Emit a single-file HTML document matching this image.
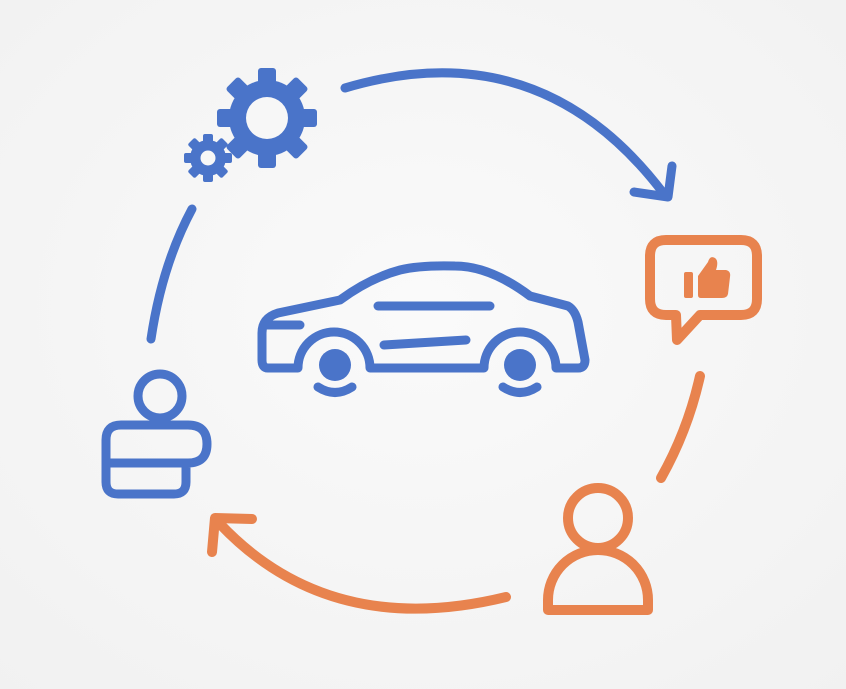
<!DOCTYPE html>
<html><head><style>
html,body{margin:0;padding:0;background:#f6f6f6;}
svg{display:block;}
</style></head><body>
<svg width="846" height="689" viewBox="0 0 846 689" xmlns="http://www.w3.org/2000/svg">
<defs>
<radialGradient id="bg" cx="50%" cy="45%" r="75%"><stop offset="0" stop-color="#fafafa"/><stop offset="1" stop-color="#f1f1f1"/></radialGradient>
</defs>
<rect width="846" height="689" fill="url(#bg)"/>
<g fill="none" stroke="#4a74c9" stroke-width="9" stroke-linecap="round" stroke-linejoin="round">
  <path d="M345,88 Q540,30 664,194"/>
  <path d="M634,192 L668,197 L672,166"/>
  <path d="M192,209 Q162,265 151,339"/>
  <circle cx="160" cy="396" r="22"/>
  <path d="M108,463 H188 Q207,463 207,444 Q207,425 188,425 H121 Q106,425 106,440 V482 Q106,494 118,494 H174 Q186,494 186,482 V463"/>
  <path d="M268,368 Q262,368 262,360 V333 Q262,318 278,313 L340,300 Q370,278 400,270 Q420,265 455,266 Q490,266 530,296 L568,306 Q575,310 578,322 L585,360 Q585,368 578,368 H556 A36,36 0 0 0 484,368 H370 A36,36 0 0 0 298,368 Z"/>
  <path d="M378,306 H490"/>
  <path d="M384,345 L466,340"/>
  <path d="M265,325 H300"/>
  <path d="M318,387 Q335,398 352,387"/>
  <path d="M503,387 Q520,398 537,387"/>
</g>
<g fill="#4a74c9">
  <circle cx="335" cy="365" r="16"/>
  <circle cx="520" cy="365" r="16"/>
</g>
<g fill="#4a74c9">
  <g transform="translate(267,118)">
    <circle r="38"/>
    <rect x="-9" y="-50" width="18" height="20" rx="3"/>
    <rect x="-9" y="-50" width="18" height="20" rx="3" transform="rotate(45)"/>
    <rect x="-9" y="-50" width="18" height="20" rx="3" transform="rotate(90)"/>
    <rect x="-9" y="-50" width="18" height="20" rx="3" transform="rotate(135)"/>
    <rect x="-9" y="-50" width="18" height="20" rx="3" transform="rotate(180)"/>
    <rect x="-9" y="-50" width="18" height="20" rx="3" transform="rotate(225)"/>
    <rect x="-9" y="-50" width="18" height="20" rx="3" transform="rotate(270)"/>
    <rect x="-9" y="-50" width="18" height="20" rx="3" transform="rotate(315)"/>
    <circle r="21" fill="#f7f7f7"/>
  </g>
  <g transform="translate(208,158)">
    <circle r="18"/>
    <rect x="-5" y="-24" width="10" height="10" rx="2"/>
    <rect x="-5" y="-24" width="10" height="10" rx="2" transform="rotate(45)"/>
    <rect x="-5" y="-24" width="10" height="10" rx="2" transform="rotate(90)"/>
    <rect x="-5" y="-24" width="10" height="10" rx="2" transform="rotate(135)"/>
    <rect x="-5" y="-24" width="10" height="10" rx="2" transform="rotate(180)"/>
    <rect x="-5" y="-24" width="10" height="10" rx="2" transform="rotate(225)"/>
    <rect x="-5" y="-24" width="10" height="10" rx="2" transform="rotate(270)"/>
    <rect x="-5" y="-24" width="10" height="10" rx="2" transform="rotate(315)"/>
    <circle r="7.5" fill="#f7f7f7"/>
  </g>
</g>
<g fill="none" stroke="#e8834e" stroke-width="10" stroke-linecap="round" stroke-linejoin="round">
  <path d="M666,240 H741 Q757,240 757,256 V299 Q757,315 741,315 H700 L677,340 L676,315 H666 Q650,315 650,299 V256 Q650,240 666,240 Z"/>
  <path d="M700,376 Q688,430 661,478"/>
  <circle cx="598" cy="518" r="30"/>
  <path d="M548,610 V600 A50,50 0 0 1 648,600 V610 Z"/>
  <path d="M506,597 Q330,640 220,524"/>
  <path d="M252,519 L215,518 L212,552"/>
</g>
<g fill="#e8834e">
  <rect x="684" y="272" width="9" height="26" rx="2"/>
  <path d="M698,276 L708,262 Q710,255 715,258 Q719,261 716,270 H726 Q731,271 730,277 L728,294 Q727,298 722,298 H701 Q698,298 698,295 Z"/>
</g>
</svg>
</body></html>
